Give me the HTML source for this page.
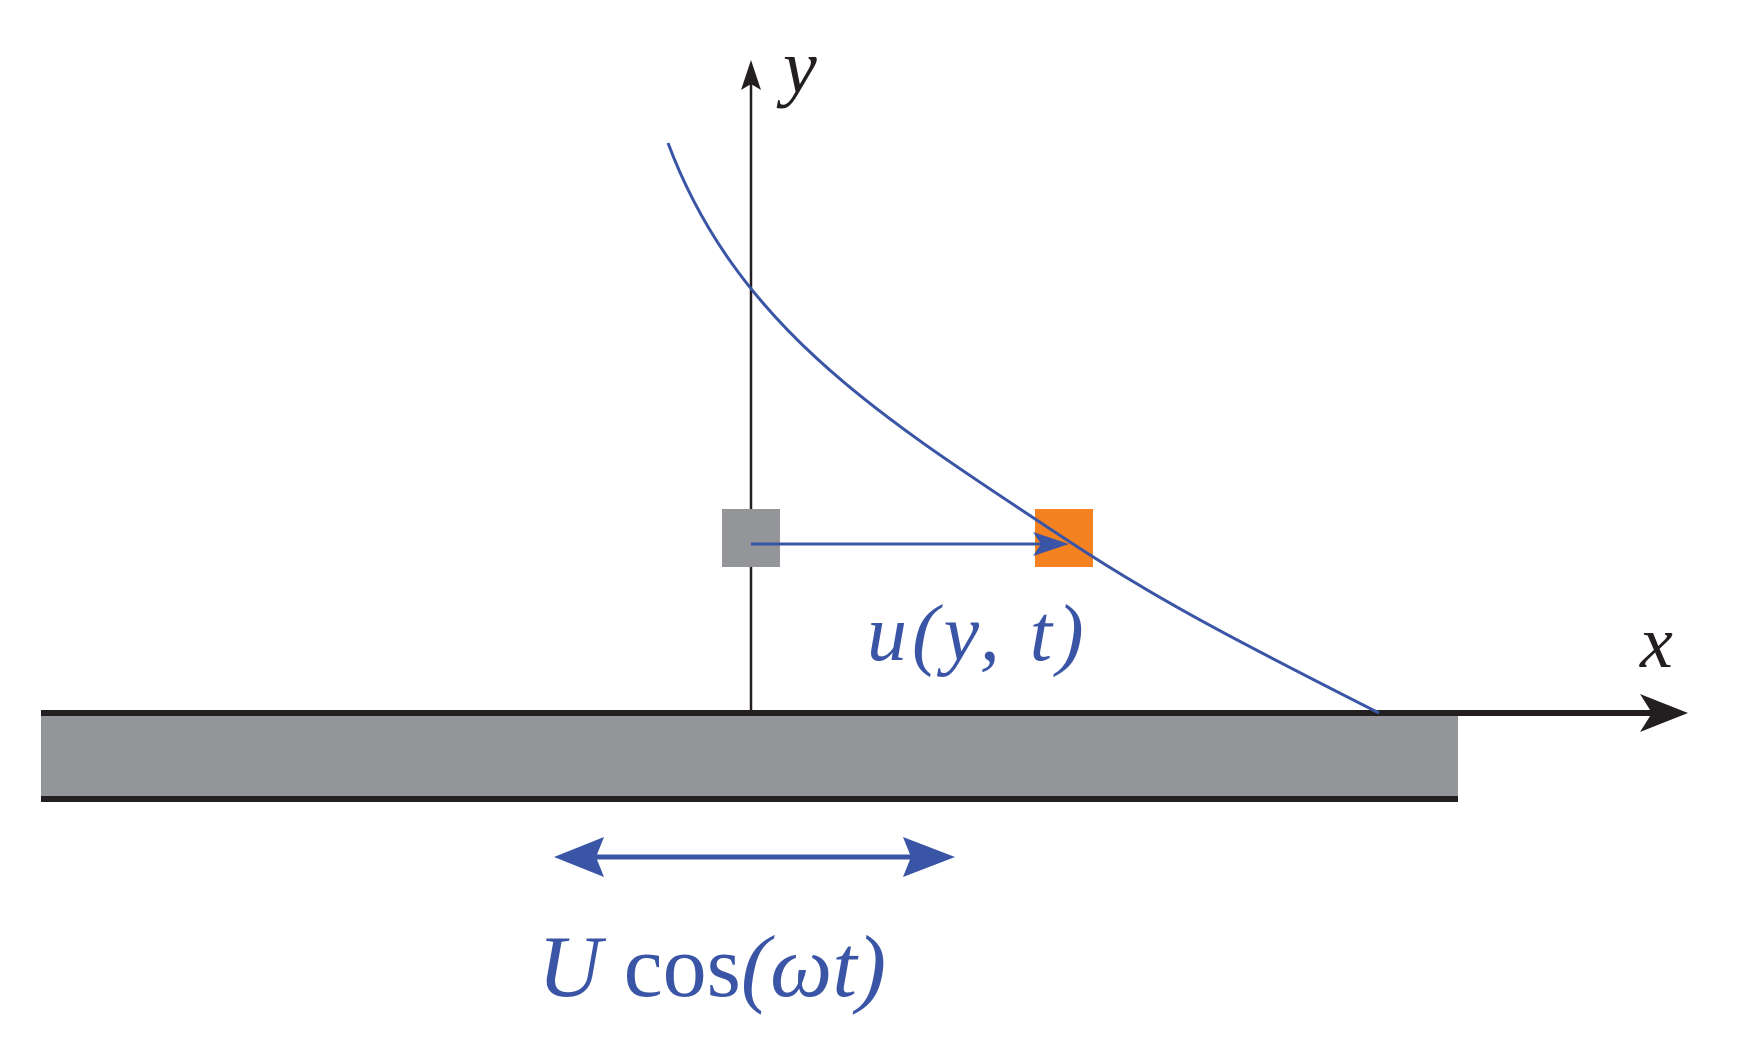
<!DOCTYPE html>
<html><head><style>html,body{margin:0;padding:0;background:#fff;width:1738px;height:1040px;overflow:hidden}</style></head>
<body>
<svg width="1738" height="1040" viewBox="0 0 1738 1040" xmlns="http://www.w3.org/2000/svg">
<rect x="41" y="716" width="1417" height="83" fill="#949598"/>
<line x1="41" y1="713" x2="1655" y2="713" stroke="#231f20" stroke-width="6"/>
<line x1="41" y1="799" x2="1458" y2="799" stroke="#231f20" stroke-width="6"/>
<path d="M1688 713 L1640 694 L1652 713 L1640 732 Z" fill="#231f20"/>
<line x1="751" y1="713" x2="751" y2="80" stroke="#231f20" stroke-width="2.5"/>
<path d="M751 60 L741 90 L751 84 L761 90 Z" fill="#231f20"/>
<rect x="722" y="509" width="58" height="58" fill="#949598"/>
<rect x="1035" y="509" width="58" height="58" fill="#f58220"/>
<line x1="751" y1="544" x2="1042" y2="544" stroke="#3a55a5" stroke-width="3"/>
<path d="M1069 544 L1033 532 L1041 544 L1033 556 Z" fill="#3a55a5"/>
<path d="M668,143 C738,330 887,421 1067,540 C1165,605 1261,653 1379,713" fill="none" stroke="#3a55a5" stroke-width="3"/>
<line x1="570" y1="857" x2="940" y2="857" stroke="#3a55a5" stroke-width="5"/>
<path d="M554 857 L604 837 L596 857 L604 877 Z" fill="#3a55a5"/>
<path d="M955 857 L903 837 L911 857 L903 877 Z" fill="#3a55a5"/>
<g font-family="Liberation Serif, serif" font-style="italic">
<text x="783" y="92" font-size="76" fill="#231f20">y</text>
<text x="1640" y="667" font-size="74" fill="#231f20">x</text>
<text x="867" y="660" font-size="80" fill="#3a55a5" letter-spacing="5">u(y, t)</text>
<text x="538" y="996" font-size="88" fill="#3a55a5">U <tspan font-style="normal">cos</tspan>(ωt)</text>
</g>
</svg>
</body></html>
